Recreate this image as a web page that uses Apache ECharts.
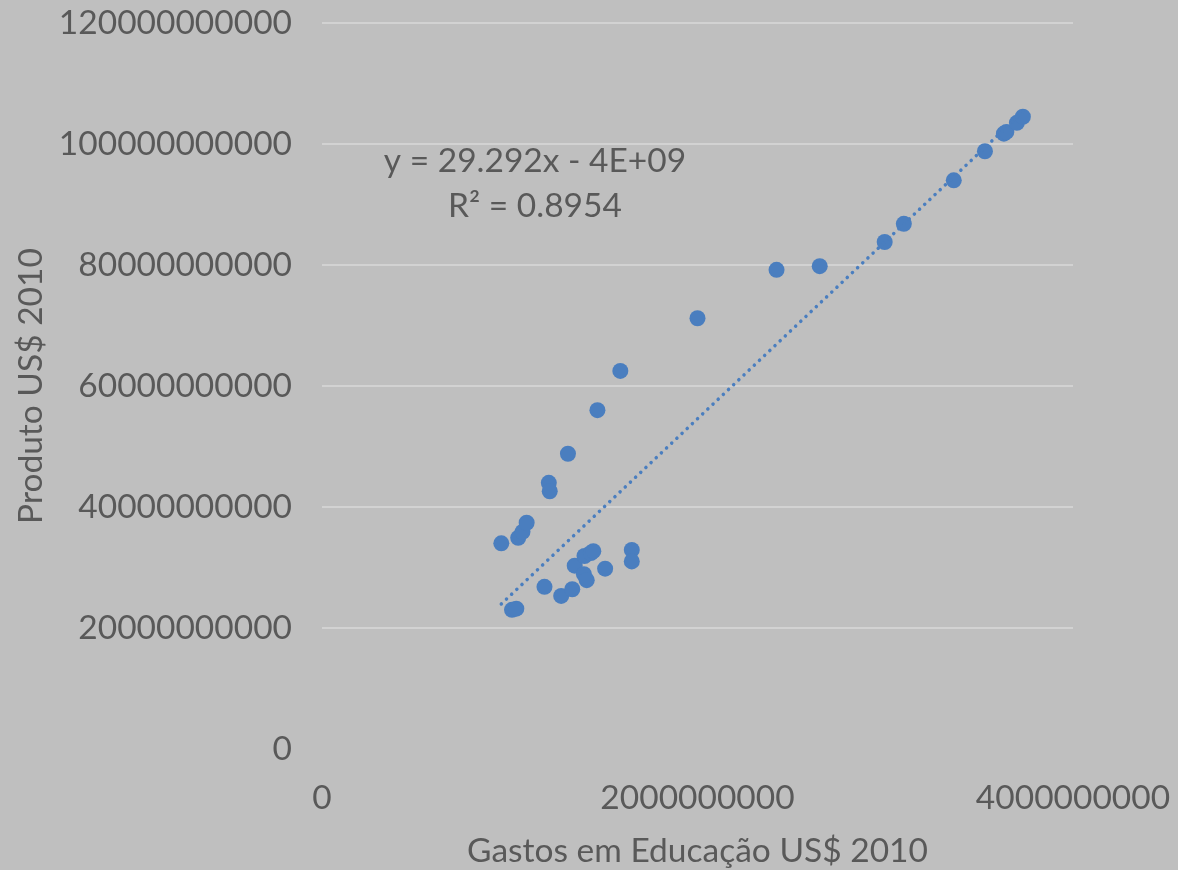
<!DOCTYPE html>
<html>
<head>
<meta charset="utf-8">
<script src="https://cdn.jsdelivr.net/npm/echarts@6/dist/echarts.min.js"></script>
<style>
html,body{margin:0;padding:0;background:#bfbfbf;}
#chart{width:1178px;height:870px;}
</style>
</head>
<body>
<div id="chart"></div>
<script>
// Gastos em Educação (US$ 2010)
const gastos = [
  0.955e9, 1.012e9, 1.035e9, 1.045e9, 1.068e9, 1.090e9, 1.185e9, 1.208e9, 1.213e9, 1.274e9,
  1.310e9, 1.333e9, 1.346e9, 1.395e9, 1.410e9, 1.398e9, 1.432e9, 1.445e9, 1.467e9, 1.508e9,
  1.589e9, 1.650e9, 1.650e9, 2.000e9, 2.421e9, 2.651e9, 2.997e9, 3.099e9, 3.365e9, 3.531e9,
  3.632e9, 3.645e9, 3.701e9, 3.733e9
];
// Produto (US$ 2010)
const produto = [
  34.0e9, 23.0e9, 23.2e9, 34.9e9, 35.9e9, 37.4e9, 26.8e9, 44.0e9, 42.6e9, 25.3e9,
  48.8e9, 26.4e9, 30.3e9, 28.9e9, 27.9e9, 31.9e9, 32.4e9, 32.7e9, 56.0e9, 29.8e9,
  62.5e9, 32.9e9, 31.0e9, 71.2e9, 79.2e9, 79.8e9, 83.8e9, 86.8e9, 94.0e9, 98.8e9,
  101.7e9, 102.0e9, 103.5e9, 104.5e9
];
const xTicks = [0, 2000000000, 4000000000];
const yTicks = [0, 20000000000, 40000000000, 60000000000, 80000000000, 100000000000, 120000000000];
const trendSlope = 29.292;
const trendIntercept = -4e9;
const eqText = 'y = 29.292x - 4E+09';
const r2Text = 'R² = 0.8954';
const xTitle = 'Gastos em Educação US$ 2010';
const yTitle = 'Produto US$ 2010';

const points = gastos.map((g, i) => [g, produto[i]]);
const xMin = Math.min(...gastos), xMax = Math.max(...gastos);
const trend = [[xMin, trendSlope * xMin + trendIntercept], [xMax, trendSlope * xMax + trendIntercept]];

const FONT = 'Lato';
const FS = 33.5;
const TXT = '#595959';
const chart = echarts.init(document.getElementById('chart'));
chart.setOption({
  backgroundColor: '#bfbfbf',
  animation: false,
  grid: {left: 322, right: 105, top: 23, bottom: 121, containLabel: false, outerBoundsMode: 'none'},
  xAxis: {
    type: 'value', min: xTicks[0], max: xTicks[xTicks.length - 1], interval: xTicks[1] - xTicks[0],
    name: xTitle, nameLocation: 'middle', nameGap: 85,
    nameTextStyle: {color: TXT, fontSize: FS, fontFamily: FONT},
    axisLine: {show: false}, axisTick: {show: false}, splitLine: {show: false},
    axisLabel: {color: TXT, fontSize: FS, fontFamily: FONT, margin: 32, formatter: v => String(v)}
  },
  yAxis: {
    type: 'value', min: yTicks[0], max: yTicks[yTicks.length - 1], interval: yTicks[1] - yTicks[0],
    name: yTitle, nameLocation: 'middle', nameGap: 272, nameRotate: 90,
    nameTextStyle: {color: TXT, fontSize: FS, fontFamily: FONT},
    axisLine: {show: false}, axisTick: {show: false},
    splitLine: {show: true, showMinLine: false, lineStyle: {color: '#d9d9d9', width: 1.5}},
    axisLabel: {color: TXT, fontSize: FS, fontFamily: FONT, margin: 30, formatter: v => String(v)}
  },
  series: [
    {
      type: 'scatter', data: points, symbolSize: 16,
      itemStyle: {color: '#4a7ebf', opacity: 1}, z: 3
    },
    {
      type: 'line', data: trend, showSymbol: false, symbol: 'none', z: 4,
      lineStyle: {color: '#4a7ebf', width: 3.5, type: [0.1, 7], cap: 'round'}
    }
  ],
  graphic: [
    {type: 'text', x: 535, y: 161, style: {text: eqText, fill: TXT, font: FS + 'px ' + FONT, textAlign: 'center', textVerticalAlign: 'middle'}},
    {type: 'text', x: 535, y: 206, style: {text: r2Text, fill: TXT, font: FS + 'px ' + FONT, textAlign: 'center', textVerticalAlign: 'middle'}}
  ]
});
</script>
</body>
</html>
